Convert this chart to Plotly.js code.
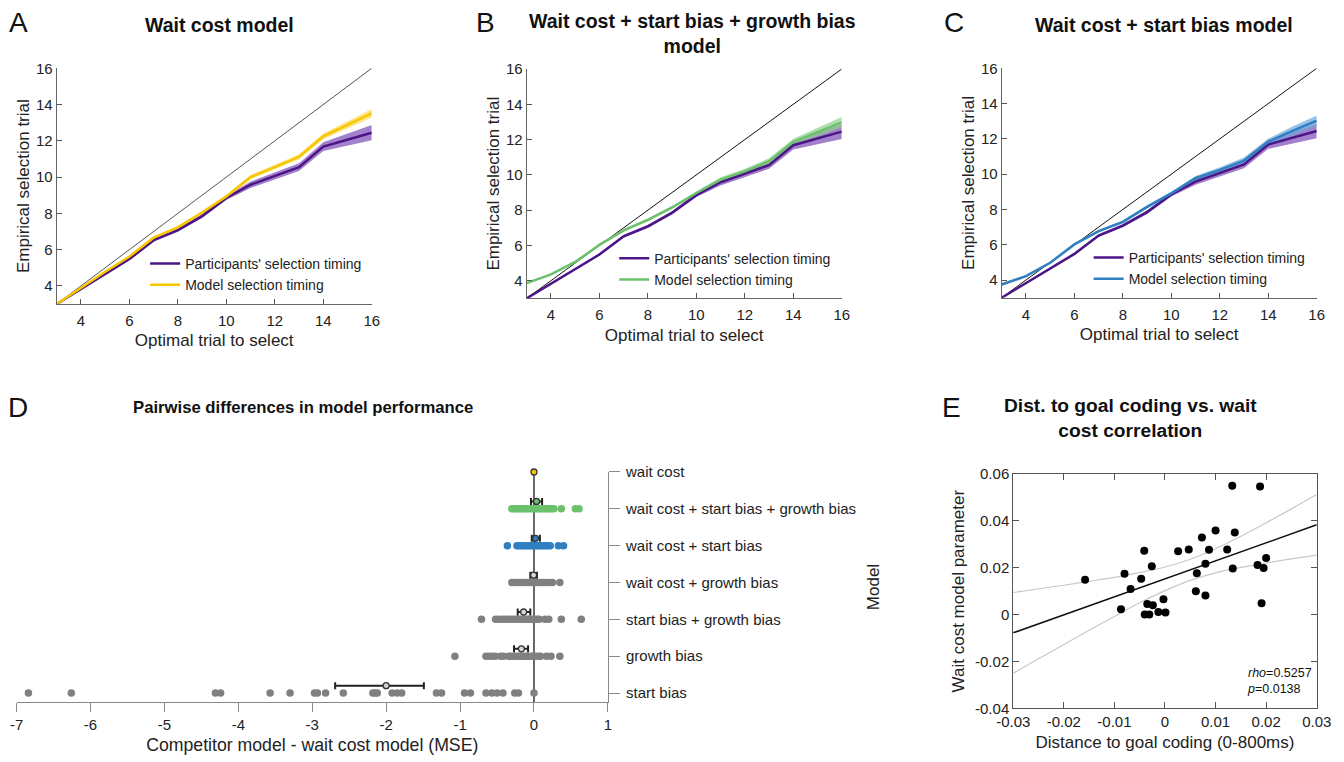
<!DOCTYPE html>
<html>
<head>
<meta charset="utf-8">
<script src="https://cdn.plot.ly/plotly-3.0.1.min.js"></script>
<style>html,body{margin:0;padding:0;background:#fff;}#chart{width:1344px;height:762px;}</style>
</head>
<body>
<div id="chart"></div>
<script>
// ---------------- DATA ----------------
// Panels A-C
const trials = [3, 4, 5, 6, 7, 8, 9, 10, 11, 12, 13, 14, 15, 16];
const participantMean = [3.0, 3.82, 4.65, 5.48, 6.52, 7.08, 7.85, 8.85, 9.58, 10.05, 10.55, 11.68, 12.05, 12.45];
const participantSem  = [0.03, 0.05, 0.06, 0.07, 0.08, 0.09, 0.10, 0.11, 0.18, 0.20, 0.21, 0.24, 0.33, 0.42];
const waitCostModelMean = [3.0, 3.9, 4.78, 5.62, 6.66, 7.23, 8.05, 8.93, 10.0, 10.55, 11.12, 12.25, 12.9, 13.52];
const waitCostModelSem  = [0.02, 0.03, 0.04, 0.05, 0.06, 0.07, 0.08, 0.09, 0.12, 0.13, 0.14, 0.16, 0.2, 0.24];
const fullModelMean = [3.86, 4.36, 5.06, 6.03, 6.85, 7.45, 8.15, 8.97, 9.73, 10.2, 10.77, 11.87, 12.42, 12.98];
const fullModelSem  = [0.04, 0.05, 0.05, 0.06, 0.07, 0.08, 0.09, 0.10, 0.13, 0.15, 0.17, 0.18, 0.25, 0.30];
const startModelMean = [3.75, 4.22, 4.98, 6.02, 6.77, 7.3, 8.15, 8.91, 9.77, 10.24, 10.77, 11.84, 12.45, 13.03];
const startModelSem  = [0.04, 0.05, 0.05, 0.06, 0.07, 0.08, 0.09, 0.10, 0.13, 0.15, 0.17, 0.18, 0.25, 0.30];
const legendNames = ["Participants' selection timing", "Model selection timing"];

// Panel D
const modelNames = ['start bias', 'growth bias', 'start bias + growth bias', 'wait cost + growth bias',
  'wait cost + start bias', 'wait cost + start bias + growth bias', 'wait cost'];
const diffStartBias = [-6.84, -6.26, -4.31, -4.24, -3.57, -3.30, -2.97, -2.93, -2.82, -2.58, -2.18, -2.15, -2.12,
  -1.92, -1.85, -1.79, -1.32, -1.25, -0.94, -0.86, -0.65, -0.57, -0.50, -0.42, -0.26, -0.21, 0.0];
const diffGrowthBias = [-1.07, -0.65, -0.61, -0.56, -0.52, -0.45, -0.41, -0.34, -0.31, -0.27, -0.24, -0.2, -0.17,
  -0.13, -0.1, -0.08, -0.04, -0.01, 0.02, 0.06, 0.09, 0.17, 0.23, 0.35];
const diffStartGrowth = [-0.71, -0.52, -0.48, -0.43, -0.39, -0.35, -0.32, -0.28, -0.24, -0.21, -0.18, -0.15, -0.11,
  -0.08, -0.06, -0.02, 0.01, 0.04, 0.07, 0.15, 0.2, 0.37, 0.64];
const diffWaitGrowth = [-0.3, -0.26, -0.22, -0.19, -0.15, -0.11, -0.08, -0.04, -0.01, 0.02, 0.05, 0.09, 0.12,
  0.16, 0.2, 0.25, 0.35];
const diffWaitStart = [-0.36, -0.23, -0.2, -0.17, -0.14, -0.11, -0.08, -0.05, -0.02, 0.01, 0.04, 0.07, 0.1,
  0.13, 0.16, 0.19, 0.22, 0.33, 0.4];
const diffWaitStartGrowth = [-0.3, -0.27, -0.24, -0.21, -0.18, -0.15, -0.12, -0.09, -0.06, -0.03, 0.0, 0.03,
  0.06, 0.09, 0.12, 0.15, 0.18, 0.21, 0.24, 0.27, 0.37, 0.56, 0.61];
const diffMean = [-2.0, -0.17, -0.14, -0.005, 0.02, 0.035, 0.0];
const diffLow  = [-2.69, -0.27, -0.22, -0.05, -0.03, -0.04, 0.0];
const diffHigh = [-1.49, -0.08, -0.05, 0.04, 0.08, 0.11, 0.0];
const diffTicks = [-7, -6, -5, -4, -3, -2, -1, 0, 1];
const diffTickText = ['-7', '-6', '-5', '-4', '-3', '-2', '-1', '0', '1'];

// Panel E
const goalCoding = [-0.0158, -0.0087, -0.0080, -0.0068, -0.0047, -0.0041, -0.0040, -0.0035, -0.0031, -0.0026,
  -0.0024, -0.0013, -0.0003, 0.0001, 0.0026, 0.0047, 0.0061, 0.0063, 0.0073, 0.0080, 0.0080, 0.0087, 0.0100,
  0.0123, 0.0133, 0.0134, 0.0138, 0.0183, 0.0188, 0.0191, 0.0195, 0.0200];
const waitCostParam = [0.0148, 0.0023, 0.0174, 0.0109, 0.0153, 0.0272, 0.0, 0.0045, 0.0, 0.0206,
  0.0040, 0.0011, 0.0065, 0.0009, 0.0270, 0.0278, 0.0099, 0.0176, 0.0329, 0.0217, 0.0081, 0.0277, 0.0359,
  0.0278, 0.0550, 0.0196, 0.0350, 0.0211, 0.0546, 0.0048, 0.0199, 0.0241];
const fitX = [-0.03, 0.03];
const fitY = [-0.0078, 0.0383];
const ciX = [-0.03, -0.025, -0.02, -0.015, -0.01, -0.005, 0, 0.005, 0.01, 0.015, 0.02, 0.025, 0.03];
const ciUpper = [0.0094, 0.0110, 0.0125, 0.0142, 0.0159, 0.0179, 0.0203, 0.0236, 0.0281, 0.0334, 0.0392, 0.0451, 0.0512];
const ciLower = [-0.0250, -0.0189, -0.0128, -0.0067, -0.0008, 0.0050, 0.0102, 0.0146, 0.0178, 0.0201, 0.0220, 0.0238, 0.0254];
const eXTicks = [-0.03, -0.02, -0.01, 0, 0.01, 0.02, 0.03];
const eXTickText = ['-0.03', '-0.02', '-0.01', '0', '0.01', '0.02', '0.03'];
const eYTicks = [-0.04, -0.02, 0, 0.02, 0.04, 0.06];
const eYTickText = ['-0.04', '-0.02', '0', '0.02', '0.04', '0.06'];

// ---------------- BUILD ----------------
const FONT = 'Liberation Sans, Arial, Helvetica, sans-serif';
const PURPLE = '#4b1487', PURPLE_BAND = 'rgba(132,86,186,0.75)';
const traces = [];

function band(xa, ya, mean, sem, color) {
  const up = mean.map((m, i) => m + sem[i]);
  const lo = mean.map((m, i) => m - sem[i]).reverse();
  return {x: trials.concat(trials.slice().reverse()), y: up.concat(lo), xaxis: xa, yaxis: ya,
    type: 'scatter', mode: 'lines', fill: 'toself', fillcolor: color, line: {width: 0},
    showlegend: false, hoverinfo: 'skip'};
}
function panel(xa, ya, leg, modelMean, modelSem, col, bandCol, diagCol) {
  const t0 = trials[0], t1 = trials[trials.length - 1];
  traces.push({x: [t0, t1], y: [t0, t1], xaxis: xa, yaxis: ya, type: 'scatter', mode: 'lines',
    line: {color: diagCol, width: 1}, showlegend: false, hoverinfo: 'skip'});
  traces.push(band(xa, ya, participantMean, participantSem, PURPLE_BAND));
  traces.push(band(xa, ya, modelMean, modelSem, bandCol));
  traces.push({x: trials, y: participantMean, xaxis: xa, yaxis: ya, type: 'scatter', mode: 'lines',
    line: {color: PURPLE, width: 2.5}, name: legendNames[0], legend: leg});
  traces.push({x: trials, y: modelMean, xaxis: xa, yaxis: ya, type: 'scatter', mode: 'lines',
    line: {color: col, width: 2.5}, name: legendNames[1], legend: leg});
}
panel('x', 'y', 'legend', waitCostModelMean, waitCostModelSem, '#f6c700', 'rgba(252,220,90,0.75)', '#555');
panel('x2', 'y2', 'legend2', fullModelMean, fullModelSem, '#6cc16c', 'rgba(140,208,138,0.7)', '#111');
panel('x3', 'y3', 'legend3', startModelMean, startModelSem, '#2f7fc1', 'rgba(110,170,220,0.7)', '#111');

// Panel D
const rows = [diffStartBias, diffGrowthBias, diffStartGrowth, diffWaitGrowth, diffWaitStart, diffWaitStartGrowth];
const rowColors = ['#808080', '#808080', '#808080', '#808080', '#2f7fc1', '#6cc16c'];
const meanFill = ['#cfcfcf', '#d8d8d8', '#d8d8d8', '#d8d8d8', '#2f7fc1', '#6cc16c', '#f6c700'];
rows.forEach((vals, i) => {
  traces.push({x: vals, y: vals.map(() => i + 1), xaxis: 'x4', yaxis: 'y4', type: 'scatter', mode: 'markers',
    marker: {color: rowColors[i], size: 7.5}, showlegend: false, cliponaxis: false, hoverinfo: 'x'});
});
diffMean.forEach((m, i) => {
  const yOff = i === 6 ? 0 : 0.2;
  traces.push({x: [m], y: [i + 1 + yOff], xaxis: 'x4', yaxis: 'y4', type: 'scatter', mode: 'markers',
    marker: {color: meanFill[i], size: 6, line: {color: '#333', width: 1.3}},
    error_x: {type: 'data', symmetric: false, array: [diffHigh[i] - m], arrayminus: [m - diffLow[i]],
      color: '#222', thickness: 2, width: 3.5, visible: i !== 6},
    showlegend: false, cliponaxis: false});
});

// Panel E
traces.push({x: ciX, y: ciUpper, xaxis: 'x5', yaxis: 'y5', type: 'scatter', mode: 'lines',
  line: {color: '#c8c8c8', width: 1.2, shape: 'spline'}, showlegend: false});
traces.push({x: ciX, y: ciLower, xaxis: 'x5', yaxis: 'y5', type: 'scatter', mode: 'lines',
  line: {color: '#c8c8c8', width: 1.2, shape: 'spline'}, showlegend: false});
traces.push({x: fitX, y: fitY, xaxis: 'x5', yaxis: 'y5', type: 'scatter', mode: 'lines',
  line: {color: '#111', width: 1.5}, showlegend: false});
traces.push({x: goalCoding, y: waitCostParam, xaxis: 'x5', yaxis: 'y5', type: 'scatter', mode: 'markers',
  marker: {color: '#000', size: 8}, showlegend: false});

// ---------------- LAYOUT ----------------
const tickFont = {family: FONT, size: 15, color: '#222'};
const titleFont = {family: FONT, size: 17, color: '#222'};
function lineAxes(xDom, yDom, xa, ya) {
  const evenTicks = trials.filter(t => t % 2 === 0);
  const common = {range: [trials[0], trials[trials.length - 1]], tickvals: evenTicks, ticks: 'inside', ticklen: 5,
    tickcolor: '#555', showline: true, linecolor: '#666', linewidth: 1, showgrid: false, zeroline: false,
    tickfont: tickFont, automargin: false};
  return [
    Object.assign({}, common, {domain: xDom, anchor: ya, ticklabelstandoff: 3,
      title: {text: 'Optimal trial to select', font: titleFont, standoff: 6}}),
    Object.assign({}, common, {domain: yDom, anchor: xa,
      title: {text: 'Empirical selection trial', font: titleFont, standoff: 2}})
  ];
}
const [xA, yA] = lineAxes([0.0422, 0.2766], [0.6010, 0.9104], 'x', 'y');
const [xB, yB] = lineAxes([0.3919, 0.6263], [0.6085, 0.9094], 'x2', 'y2');
const [xC, yC] = lineAxes([0.7453, 0.9797], [0.6093, 0.9104], 'x3', 'y3');

const legendStyle = (x, y) => ({x: x, y: y, xanchor: 'left', yanchor: 'top', bgcolor: 'rgba(0,0,0,0)',
  font: {family: FONT, size: 14, color: '#222'}, traceorder: 'normal', itemwidth: 30, tracegroupgap: 0});

const ann = (text, x, y, size, bold, extra) => Object.assign({text: bold ? '<b>' + text + '</b>' : text,
  x: x, y: y, xref: 'paper', yref: 'paper', showarrow: false, xanchor: 'center', yanchor: 'middle',
  font: {family: FONT, size: size, color: '#111'}}, extra || {});

const layout = {
  width: 1344, height: 762, margin: {l: 0, r: 0, t: 0, b: 0},
  paper_bgcolor: '#fff', plot_bgcolor: 'rgba(0,0,0,0)', showlegend: true,
  font: {family: FONT, color: '#222'},
  xaxis: xA, yaxis: yA, xaxis2: xB, yaxis2: yB, xaxis3: xC, yaxis3: yC,
  legend: legendStyle(0.108, 0.6746), legend2: legendStyle(0.457, 0.6816), legend3: legendStyle(0.810, 0.6826),
  xaxis4: {domain: [0.01235, 0.4523], anchor: 'y4', range: [-7, 1], tickvals: diffTicks, ticktext: diffTickText,
    ticks: 'outside', ticklen: 9, tickcolor: '#888', showline: true, linecolor: '#888', linewidth: 1.2,
    showgrid: false, zeroline: false, tickfont: tickFont, automargin: false,
    title: {text: 'Competitor model - wait cost model (MSE)', font: {family: FONT, size: 17.7, color: '#222'}, standoff: 6}},
  yaxis4: {domain: [0.0787, 0.3806], anchor: 'x4', side: 'right', range: [0.756, 7],
    tickvals: [1, 2, 3, 4, 5, 6, 7], ticktext: modelNames, ticks: 'outside', ticklen: 11, tickcolor: '#888',
    showline: true, linecolor: '#888', linewidth: 1.2, showgrid: false, zeroline: false, tickfont: tickFont,
    ticklabelstandoff: 3, automargin: false, title: {text: 'Model', font: titleFont, standoff: 12}},
  xaxis5: {domain: [0.7539, 0.9797], anchor: 'y5', range: [-0.03, 0.03], tickvals: eXTicks, ticktext: eXTickText,
    ticks: 'inside', ticklen: 6, tickcolor: '#555', showline: true, mirror: 'ticks', linecolor: '#555', linewidth: 1,
    showgrid: false, zeroline: false, tickfont: tickFont, automargin: false,
    title: {text: 'Distance to goal coding (0-800ms)', font: titleFont, standoff: 6}},
  yaxis5: {domain: [0.0705, 0.3780], anchor: 'x5', range: [-0.04, 0.06], tickvals: eYTicks, ticktext: eYTickText,
    ticks: 'inside', ticklen: 6, tickcolor: '#555', showline: true, mirror: 'ticks', linecolor: '#555', linewidth: 1,
    showgrid: false, zeroline: false, tickfont: tickFont, automargin: false,
    title: {text: 'Wait cost model parameter', font: titleFont, standoff: 6}},
  shapes: [
    {type: 'line', xref: 'x4', yref: 'y4', x0: 0, x1: 0, y0: 0.756, y1: 7, line: {color: '#444', width: 1.6}, layer: 'below'}
  ],
  annotations: [
    ann('A', 0.0141, 0.9711, 28, false),
    ann('Wait cost model', 0.163, 0.9672, 19.5, true),
    ann('B', 0.3609, 0.9711, 28, false),
    ann('Wait cost + start bias + growth bias<br>model', 0.5149, 0.9554, 19.5, true),
    ann('C', 0.7098, 0.9711, 28, false),
    ann('Wait cost + start bias model', 0.8661, 0.9672, 19.5, true),
    ann('D', 0.0134, 0.4646, 28, false),
    ann('Pairwise differences in model performance', 0.2254, 0.4646, 16.7, true),
    ann('E', 0.7083, 0.4646, 28, false),
    ann('Dist. to goal coding vs. wait<br>cost correlation', 0.8408, 0.4514, 19.2, true),
    ann('<i>rho</i>=0.5257<br><i>p</i>=0.0138', 0.9263, 0.1063, 12.5, false, {xanchor: 'left', align: 'left'})
  ]
};

Plotly.newPlot('chart', traces, layout, {displayModeBar: false, responsive: false});
</script>
</body>
</html>
